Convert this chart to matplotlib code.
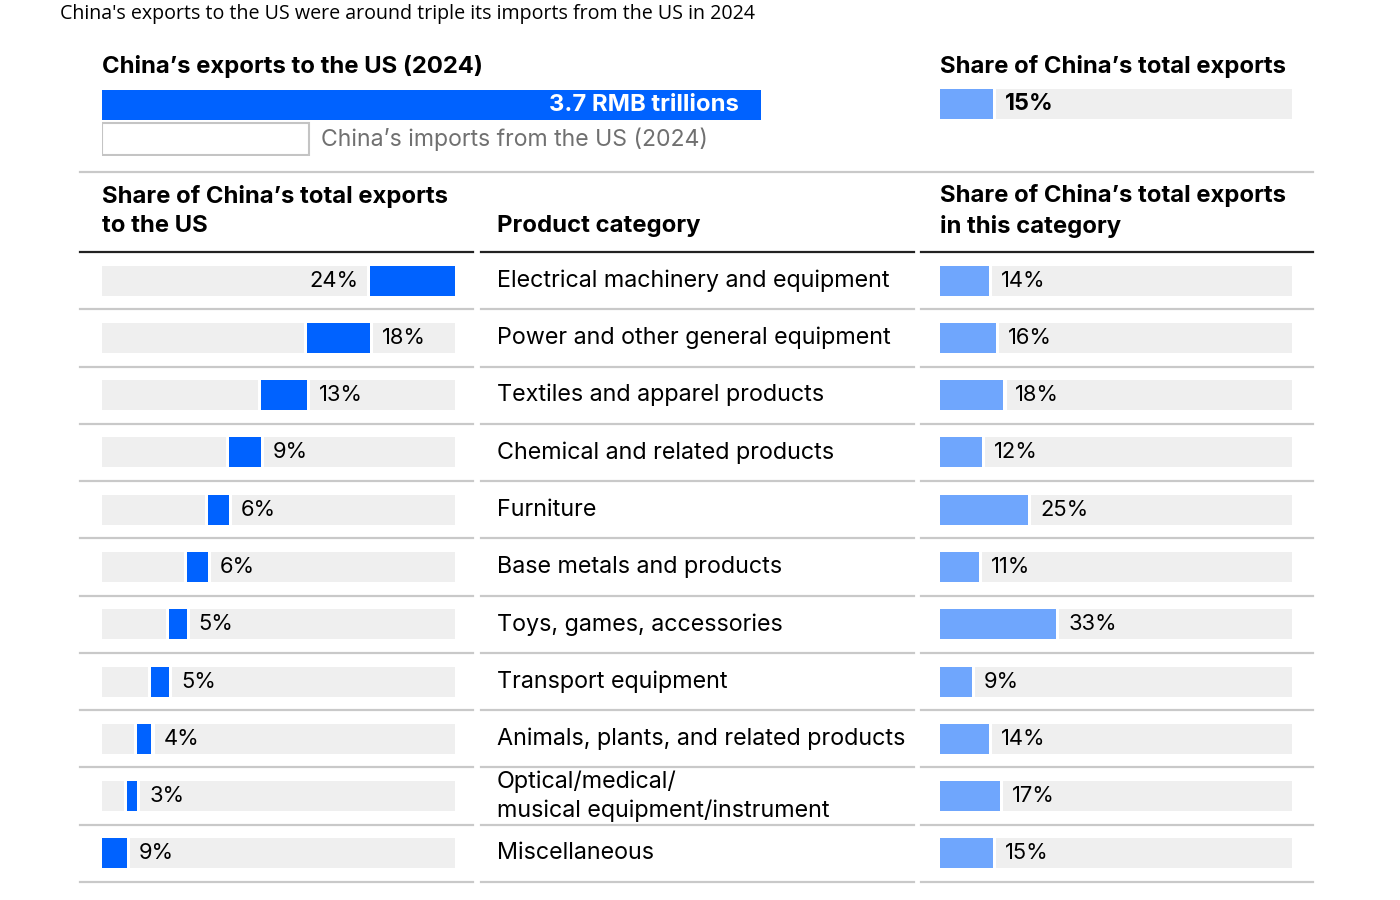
import numpy as np
import matplotlib.pyplot as plt

plt.rcParams['font.family'] = ['Inter', 'DejaVu Sans']

# ---- data ----
categories = [
    "Electrical machinery and equipment",
    "Power and other general equipment",
    "Textiles and apparel products",
    "Chemical and related products",
    "Furniture",
    "Base metals and products",
    "Toys, games, accessories",
    "Transport equipment",
    "Animals, plants, and related products",
    "Optical/medical/\nmusical equipment/instrument",
    "Miscellaneous",
]
share_of_us_exports = [24, 18, 13, 9, 6, 6, 5, 5, 4, 3, 9]
share_in_category = [14, 16, 18, 12, 25, 11, 33, 9, 14, 17, 15]

exports_to_us = 3.7     # RMB trillions
imports_from_us = 1.16  # RMB trillions
us_share_total = 15     # % of China's total exports

BLUE = '#0062ff'
LIGHT = '#6fa6fd'
TRACK = '#efefef'
DARK = '#222222'
GRID = '#c9c9c9'
FS = 16.8   # category text
PFS = 15.8  # percentage labels
HFS = 17.2  # bold headers

W, H = 1400, 900
fig = plt.figure(figsize=(14, 9), dpi=100)


def px_axes(x0, y0, x1, y1):
    return fig.add_axes([x0 / W, 1 - y1 / H, (x1 - x0) / W, (y1 - y0) / H])


# overlay for texts and rules, pixel coordinates
ov = px_axes(0, 0, W, H)
ov.set_xlim(0, W)
ov.set_ylim(H, 0)
ov.axis('off')

n = len(categories)
row_top, row_bot = 252, 882
row_h = (row_bot - row_top) / n
bar_h = 30 / row_h
row_y = [row_top + row_h * (i + 0.5) for i in range(n)]
gap = 0.9  # white gap between bar and track, in %

# title
ov.text(60, 14, "China's exports to the US were around triple its imports from the US in 2024",
        fontsize=14.1, family=['Open Sans', 'DejaVu Sans'], va='center', ha='left', color='black')

# ---- top summary ----
ov.text(102, 66, "China\u2019s exports to the US (2024)", fontsize=HFS, fontweight='bold',
        va='center', ha='left')
ov.text(940, 66, "Share of China\u2019s total exports", fontsize=HFS, fontweight='bold',
        va='center', ha='left')

ax_top = px_axes(102, 88, 761, 156)
ax_top.set_xlim(0, exports_to_us)
ax_top.set_ylim(1.5, -0.5)
ax_top.barh(0, exports_to_us, height=0.9, color=BLUE, left=0)
ax_top.barh(1, imports_from_us, height=0.93, color='white', edgecolor='#c4c4c4', linewidth=1.5)
ax_top.text(exports_to_us * 0.967, 0, f"{exports_to_us} RMB trillions", color='white',
            fontsize=17.2, fontweight='bold', ha='right', va='center')
ax_top.text(imports_from_us + 0.07, 1, "China\u2019s imports from the US (2024)", color='#707070',
            fontsize=16.6, ha='left', va='center')
ax_top.axis('off')

ax_share = px_axes(940, 89, 1292, 119)
ax_share.set_xlim(0, 100)
ax_share.set_ylim(-0.5, 0.5)
ax_share.barh(0, 100 - us_share_total - gap, left=us_share_total + gap, height=1, color=TRACK)
ax_share.barh(0, us_share_total, height=1, color=LIGHT)
ax_share.text(us_share_total + 3.4, 0, f"{us_share_total}%", fontsize=16.8, fontweight='bold',
              ha='left', va='center')
ax_share.axis('off')

ov.plot([80, 1313], [172, 172], color=GRID, lw=1.6)

# ---- column headers ----
ov.text(102, 211, "Share of China\u2019s total exports\nto the US", fontsize=HFS, fontweight='bold',
        va='center', ha='left', linespacing=1.4)
ov.text(497, 226, "Product category", fontsize=HFS, fontweight='bold', va='center', ha='left')
ov.text(940, 211, "Share of China\u2019s total exports\nin this category", fontsize=HFS,
        fontweight='bold', va='center', ha='left', linespacing=1.4)

segments = [(80, 473), (481, 914), (921, 1313)]
for x0, x1 in segments:
    ov.plot([x0, x1], [row_top, row_top], color=DARK, lw=1.6)
    for i in range(n):
        yy = row_top + row_h * (i + 1)
        ov.plot([x0, x1], [yy, yy], color=GRID, lw=1.6)

# ---- left column: stacked share of exports to US ----
ax_l = px_axes(102, row_top, 455, row_bot)
ax_l.set_xlim(0, 100)
ax_l.set_ylim(n - 0.5, -0.5)
vals = np.array(share_of_us_exports)
right_edge = 100 - np.concatenate([[0], np.cumsum(vals)[:-1]])
left_edge = np.clip(right_edge - vals, 0, None)
ypos = np.arange(n)
# track pieces on both sides of the bar
lw_track = np.clip(left_edge - gap, 0, None)
ax_l.barh(ypos, lw_track, left=0, height=bar_h, color=TRACK)
rw_left = np.minimum(right_edge + gap, 100)
ax_l.barh(ypos, 100 - rw_left, left=rw_left, height=bar_h, color=TRACK)
ax_l.barh(ypos, right_edge - left_edge, left=left_edge, height=bar_h, color=BLUE)
for i, v in enumerate(vals):
    if right_edge[i] >= 99:
        ax_l.text(left_edge[i] - 3.4, i, f"{v}%", fontsize=PFS, ha='right', va='center')
    else:
        ax_l.text(right_edge[i] + 3.4, i, f"{v}%", fontsize=PFS, ha='left', va='center')
ax_l.axis('off')

# ---- middle column: category names ----
for i, c in enumerate(categories):
    ov.text(497, row_y[i], c, fontsize=FS, ha='left', va='center', linespacing=1.4)

# ---- right column: share within category ----
ax_r = px_axes(940, row_top, 1292, row_bot)
ax_r.set_xlim(0, 100)
ax_r.set_ylim(n - 0.5, -0.5)
cat = np.array(share_in_category)
ax_r.barh(ypos, 100 - cat - gap, left=cat + gap, height=bar_h, color=TRACK)
ax_r.barh(ypos, cat, height=bar_h, color=LIGHT)
for i, v in enumerate(cat):
    ax_r.text(v + 3.4, i, f"{v}%", fontsize=PFS, ha='left', va='center')
ax_r.axis('off')

fig.savefig('out.png', dpi=100, facecolor='white')
